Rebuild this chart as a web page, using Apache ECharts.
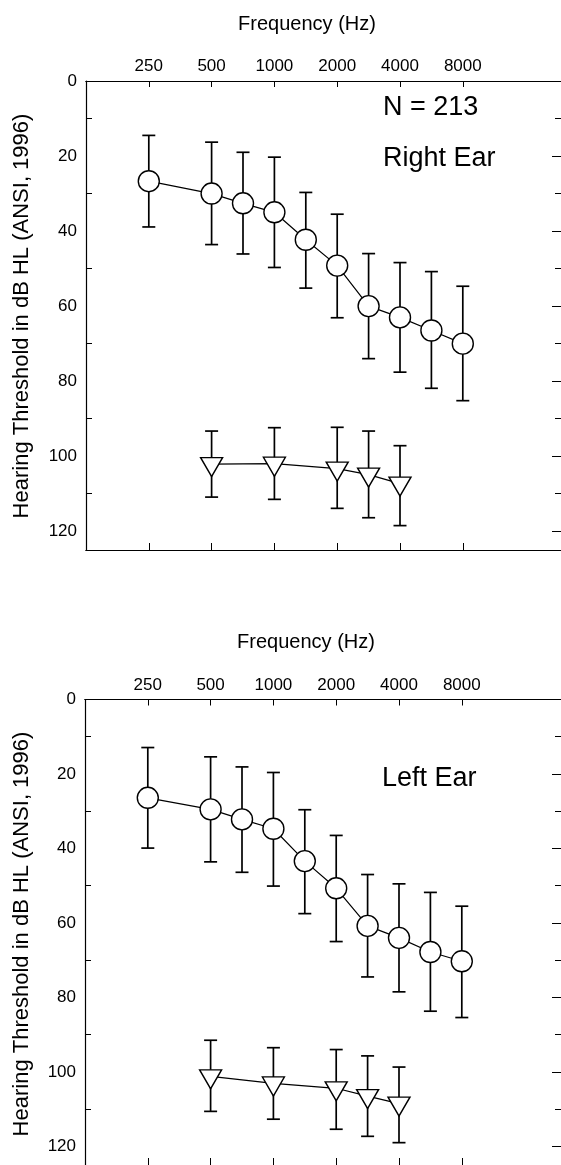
<!DOCTYPE html>
<html>
<head>
<meta charset="utf-8">
<script src="https://cdn.jsdelivr.net/npm/echarts@6/dist/echarts.min.js"></script>
<style>
html,body{margin:0;padding:0;background:#fff;}
#chart{width:561px;height:1165px;}
</style>
</head>
<body>
<div id="chart"></div>
<script>
// ---- axis categories (half-octave slots) ----
const axisSlots = ['125','180','250','355','500','750','1000','1500','2000','3000','4000','6000','8000','12000','16000','24000'];
const labeledFreqs = ['250','500','1000','2000','4000','8000'];
const yTicks = [0, 20, 40, 60, 80, 100, 120];

// ---- data ----
const circleFreqs = ['250','500','750','1000','1500','2000','3000','4000','6000','8000'];
const triFreqs = ['500','1000','2000','3000','4000'];

// Right ear
const rightCircle     = [26.7, 30.0, 32.6, 35.0, 42.3, 49.2, 60.0, 63.0, 66.5, 70.0];
const rightCircleLow  = [14.5, 16.3, 19.0, 20.3, 29.7, 35.5, 46.0, 48.4, 50.8, 54.7];
const rightCircleHigh = [38.9, 43.6, 46.1, 49.7, 55.2, 63.1, 74.0, 77.6, 81.9, 85.2];
const rightTri        = [102.1, 102.0, 103.3, 104.9, 107.3];
const rightTriLow     = [93.3, 92.4, 92.3, 93.3, 97.2];
const rightTriHigh    = [110.9, 111.5, 113.9, 116.4, 118.5];

// Left ear
const leftCircle     = [26.4, 29.5, 32.2, 34.7, 43.4, 50.7, 60.8, 64.0, 67.8, 70.3];
const leftCircleLow  = [12.9, 15.4, 18.1, 19.6, 29.6, 36.5, 47.0, 49.5, 51.8, 55.5];
const leftCircleHigh = [39.9, 43.6, 46.4, 50.1, 57.5, 65.0, 74.5, 78.5, 83.7, 85.4];
const leftTri        = [101.2, 103.1, 104.4, 106.5, 108.5];
const leftTriLow     = [91.5, 93.5, 94.0, 95.7, 98.7];
const leftTriHigh    = [110.6, 112.7, 115.4, 117.3, 119.0];

const FONT = '"Liberation Sans", Arial, Helvetica, sans-serif';

const showAt = (idx, val) => labeledFreqs.indexOf(val) >= 0;

function xAxes(gridIndex, withLabels) {
  return [
    {
      type: 'category', gridIndex, position: 'top', data: axisSlots, boundaryGap: false,
      axisLine: { onZero: false, lineStyle: { color: '#000', width: 1.2 } },
      axisTick: { inside: true, length: 6, interval: showAt, lineStyle: { color: '#000', width: 1 } },
      axisLabel: { show: withLabels, interval: showAt, margin: 6, color: '#000', fontSize: 17, fontFamily: FONT },
      splitLine: { show: false }
    },
    {
      type: 'category', gridIndex, position: 'bottom', data: axisSlots, boundaryGap: false,
      axisLine: { onZero: false, lineStyle: { color: '#000', width: 1.2 } },
      axisTick: { inside: true, length: 7, interval: showAt, lineStyle: { color: '#000', width: 1 } },
      axisLabel: { show: false },
      splitLine: { show: false }
    }
  ];
}

const yBase = (gridIndex) => ({
  type: 'value', gridIndex, inverse: true, min: 0, max: 125, interval: 20,
  splitLine: { show: false },
  axisTick: { inside: true, length: 9, lineStyle: { color: '#000', width: 1 } },
  minorTick: { show: true, splitNumber: 2, length: 6, lineStyle: { color: '#000', width: 1 } },
  minorSplitLine: { show: false }
});

function yLeft(gridIndex) {
  return Object.assign(yBase(gridIndex), {
    position: 'left',
    axisLine: { show: true, onZero: false, lineStyle: { color: '#000', width: 1.2 } },
    axisLabel: { margin: 9, color: '#000', fontSize: 17, fontFamily: FONT,
      formatter: v => (yTicks.indexOf(v) >= 0 ? String(v) : '') }
  });
}
function yRight(gridIndex) {
  return Object.assign(yBase(gridIndex), {
    position: 'right',
    axisLine: { show: false, onZero: false },
    axisLabel: { show: false }
  });
}
// frame grids: only carry the full-width top/bottom lines and right-side ticks
function frameX(gridIndex) {
  const mk = (pos) => ({ type: 'value', gridIndex, min: 0, max: 1, position: pos,
    axisTick: { show: false }, axisLabel: { show: false }, splitLine: { show: false },
    axisLine: { show: true, onZero: false, lineStyle: { color: '#000', width: 1.2 } } });
  return [mk('top'), mk('bottom')];
}

function errRender(params, api) {
  const c = api.value(0);
  const p1 = api.coord([c, api.value(1)]);
  const p2 = api.coord([c, api.value(2)]);
  const hw = 6.5;
  const st = { stroke: '#000', lineWidth: 1.7 };
  return {
    type: 'group',
    children: [
      { type: 'line', shape: { x1: p1[0], y1: p1[1], x2: p2[0], y2: p2[1] }, style: st },
      { type: 'line', shape: { x1: p1[0] - hw, y1: p1[1], x2: p1[0] + hw, y2: p1[1] }, style: st },
      { type: 'line', shape: { x1: p2[0] - hw, y1: p2[1], x2: p2[0] + hw, y2: p2[1] }, style: st }
    ]
  };
}

function panelSeries(xi, yi, circ, cLow, cHigh, tri, tLow, tHigh) {
  return [
    {
      type: 'custom', name: 'circle range', xAxisIndex: xi, yAxisIndex: yi,
      renderItem: errRender, encode: { x: 0, y: [1, 2] }, z: 1,
      data: circleFreqs.map((f, i) => [f, cLow[i], cHigh[i]])
    },
    {
      type: 'custom', name: 'triangle range', xAxisIndex: xi, yAxisIndex: yi,
      renderItem: errRender, encode: { x: 0, y: [1, 2] }, z: 1,
      data: triFreqs.map((f, i) => [f, tLow[i], tHigh[i]])
    },
    {
      type: 'line', name: 'circle mean', xAxisIndex: xi, yAxisIndex: yi, z: 3,
      symbol: 'circle', symbolSize: 21, showAllSymbol: true,
      itemStyle: { color: '#fff', borderColor: '#000', borderWidth: 1.4 },
      lineStyle: { color: '#000', width: 1.2 },
      data: circleFreqs.map((f, i) => [f, circ[i]])
    },
    {
      type: 'line', name: 'triangle mean', xAxisIndex: xi, yAxisIndex: yi, z: 3,
      symbol: 'path://M0,0L2,0L1,1.75Z', symbolSize: [22, 19], symbolOffset: [0, 3], showAllSymbol: true,
      symbolKeepAspect: false,
      itemStyle: { color: '#fff', borderColor: '#000', borderWidth: 1.4 },
      lineStyle: { color: '#000', width: 1.2 },
      data: triFreqs.map((f, i) => [f, tri[i]])
    }
  ];
}

function label(x, y, text, size, align) {
  return { type: 'text', x, y, silent: true,
    style: { text, fontSize: size, fontFamily: FONT, fill: '#000', textAlign: align || 'left', textVerticalAlign: 'middle' } };
}
function yName(y) {
  return { type: 'text', x: 22, y, rotation: Math.PI / 2, silent: true,
    style: { text: 'Hearing Threshold in dB HL (ANSI, 1996)', fontSize: 22, fontFamily: FONT, fill: '#000', textAlign: 'center', textVerticalAlign: 'middle' } };
}

const chart = echarts.init(document.getElementById('chart'), null, { renderer: 'canvas' });
chart.setOption({
  animation: false,
  backgroundColor: '#fff',
  grid: [
    { left: 86, top: 81, width: 471, height: 469 },
    { left: 85, top: 699.5, width: 471, height: 468.5 },
    { left: 86, top: 81, width: 477, height: 469 },
    { left: 85, top: 699.5, width: 477, height: 468.5 }
  ],
  xAxis: [].concat(xAxes(0, true), xAxes(1, true), frameX(2), frameX(3)),
  yAxis: [yLeft(0), yLeft(1), yRight(2), yRight(3)],
  series: [].concat(
    panelSeries(0, 0, rightCircle, rightCircleLow, rightCircleHigh, rightTri, rightTriLow, rightTriHigh),
    panelSeries(2, 1, leftCircle, leftCircleLow, leftCircleHigh, leftTri, leftTriLow, leftTriHigh)
  ),
  graphic: [
    label(307, 24, 'Frequency (Hz)', 20, 'center'),
    label(306, 642, 'Frequency (Hz)', 20, 'center'),
    label(383, 108, 'N = 213', 27),
    label(383, 158.5, 'Right Ear', 27),
    label(382, 778.5, 'Left Ear', 27),
    yName(316),
    yName(934)
  ]
});
</script>
</body>
</html>
